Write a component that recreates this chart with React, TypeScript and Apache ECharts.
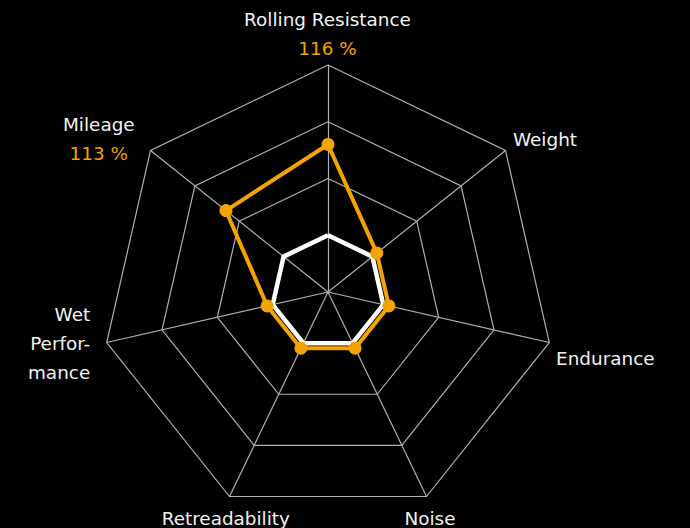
import React, { useEffect, useRef } from "react";
import * as echarts from "echarts";

// ---- data ----
const indicatorNames = [
  "Rolling Resistance",
  "Mileage",
  "Wet Performance",
  "Retreadability",
  "Noise",
  "Endurance",
  "Weight",
];
const indicatorLabels = [
  "Rolling Resistance",
  "Mileage",
  "Wet\nPerfor-\nmance",
  "Retreadability",
  "Noise",
  "Endurance",
  "Weight",
];
const baselineValues = [100, 100, 100, 100, 100, 100, 100];
const productValues = [116, 113, 101, 101, 101, 101, 101];
const showValueLabel = [true, true, false, false, false, false, false];
const axisMin = 90;
const axisMax = 130;

// ---- layout / style ----
const ORANGE = "#f5a300";
const GRID = "#b0b0b0";
const FONT = "DejaVu Sans";
const FONT_SIZE = 18.4;
const labelAlign = ["center", "center", "right", "center", "center", "center", "center"];
const labelShift: number[][] = [
  [-0.5, -30.6],
  [-51.7, -11.1],
  [-47.6, 0.9],
  [-3.7, 21.8],
  [3.5, 21.8],
  [56, 16.3],
  [39.5, -10.5],
];

function padFor(i: number) {
  const [dx, dy] = labelShift[i];
  return [Math.max(0, 2 * dy), Math.max(0, -2 * dx), Math.max(0, -2 * dy), Math.max(0, 2 * dx)];
}

export default function App() {
  const ref = useRef<HTMLDivElement>(null);
  useEffect(() => {
    document.body.style.margin = "0";
    document.body.style.background = "#000";
    if (!ref.current) return;
    const chart = echarts.init(ref.current, undefined, { renderer: "svg" });

    const rich: Record<string, any> = {};
    indicatorNames.forEach((_, i) => {
      const base = {
        fontSize: FONT_SIZE,
        fontFamily: FONT,
        lineHeight: 29,
        align: labelAlign[i],
        padding: padFor(i),
      };
      rich["n" + i] = { ...base, color: "#f2f2f2" };
      rich["v" + i] = { ...base, color: ORANGE };
    });

    chart.setOption({
      animation: false,
      backgroundColor: "#000000",
      radar: {
        center: [328, 292],
        radius: 227,
        startAngle: 90,
        shape: "polygon",
        splitNumber: 4,
        nameGap: 0,
        indicator: indicatorNames.map((n) => ({ name: n, min: axisMin, max: axisMax })),
        axisName: {
          color: "#f2f2f2",
          fontSize: FONT_SIZE,
          fontFamily: FONT,
          lineHeight: 29,
          align: "center",
          verticalAlign: "middle",
          formatter: (name: string) => {
            const i = indicatorNames.indexOf(name);
            const lines = indicatorLabels[i].split("\n").map((l) => `{n${i}|${l}}`);
            if (showValueLabel[i]) lines.push(`{v${i}|${productValues[i]} %}`);
            return lines.join("\n");
          },
          rich,
        },
        splitLine: { lineStyle: { color: GRID, width: 1.2 } },
        splitArea: { show: false },
        axisLine: { lineStyle: { color: GRID, width: 1.2 } },
        axisTick: { show: false },
        axisLabel: { show: false },
      },
      series: [
        {
          type: "radar",
          silent: true,
          data: [
            {
              value: baselineValues,
              name: "Baseline",
              symbol: "none",
              lineStyle: { color: "#ffffff", width: 4.5 },
              itemStyle: { color: "#ffffff" },
            },
            {
              value: productValues,
              name: "Product",
              symbol: "circle",
              symbolSize: 13,
              lineStyle: { color: ORANGE, width: 4 },
              itemStyle: { color: ORANGE },
            },
          ],
        },
      ],
    });
    return () => chart.dispose();
  }, []);
  return (
    <div
      ref={ref}
      style={{ position: "absolute", left: 0, top: 0, width: 690, height: 528, background: "#000" }}
    />
  );
}
